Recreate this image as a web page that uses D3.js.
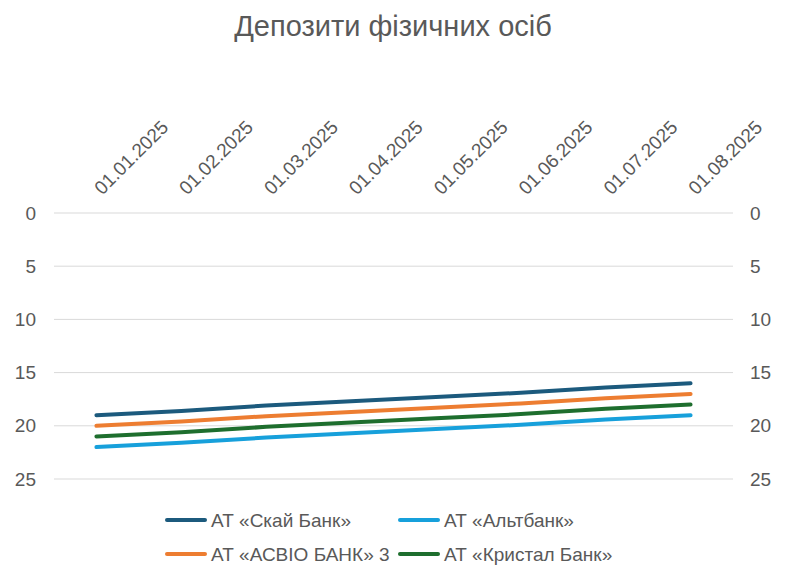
<!DOCTYPE html>
<html><head><meta charset="utf-8">
<script src="https://cdn.jsdelivr.net/npm/d3@7"></script>
<style>body{margin:0;background:#fff}svg{display:block}</style>
</head><body><svg id="c" width="789" height="573"></svg>
<script>
const categories = ["01.01.2025","01.02.2025","01.03.2025","01.04.2025","01.05.2025","01.06.2025","01.07.2025","01.08.2025"];
const seriesNames = ["АТ «Скай Банк»","АТ «Альтбанк»","АТ «АСВІО БАНК» 3","АТ «Кристал Банк»"];
const skai   = [19, 18.6, 18.1, 17.7, 17.3, 16.9, 16.4, 16];
const alt    = [22, 21.6, 21.1, 20.7, 20.3, 19.9, 19.4, 19];
const asvio  = [20, 19.6, 19.1, 18.7, 18.3, 17.9, 17.4, 17];
const kristal= [21, 20.6, 20.1, 19.7, 19.3, 18.9, 18.4, 18];
const yTicks = [0,5,10,15,20,25];
const colors = ["#1c5a7d","#17a0db","#ed7d31","#1e6e2e"];
const seriesVals = [skai, alt, asvio, kristal];

(function(){
const svg = d3.select("#c");
const font = "'Liberation Sans', Arial, sans-serif";
const txt = "#595959";
const pL = 54, pR = 733, pT = 213, pB = 479;

svg.append("text").attr("x", 393).attr("y", 36).attr("text-anchor","middle")
  .attr("font-family", font).attr("font-size", 29).attr("fill", txt).text("Депозити фізичних осіб");

const x = d3.scaleBand().domain(categories).range([pL, pR]);
const y = d3.scaleLinear().domain([0,25]).range([pT, pB]);

svg.append("g").selectAll("line").data(yTicks).join("line")
  .attr("x1", pL).attr("x2", pR).attr("y1", d=>y(d)).attr("y2", d=>y(d))
  .attr("stroke", "#d9d9d9").attr("stroke-width", 1);

const yl = svg.append("g").attr("transform", `translate(${pL},0)`)
  .call(d3.axisLeft(y).tickValues(yTicks).tickSize(0).tickPadding(18));
yl.select(".domain").remove();
yl.selectAll("text").attr("font-family", font).attr("font-size", 19).attr("fill", txt);

const yr = svg.append("g").attr("transform", `translate(${pR},0)`)
  .call(d3.axisRight(y).tickValues(yTicks).tickSize(0).tickPadding(17));
yr.select(".domain").remove();
yr.selectAll("text").attr("font-family", font).attr("font-size", 19).attr("fill", txt);

const xa = svg.append("g").attr("transform", `translate(0,${pT})`)
  .call(d3.axisTop(x).tickSize(0).tickPadding(0));
xa.select(".domain").remove();
xa.selectAll("text")
  .attr("font-family", font).attr("font-size", 19).attr("fill", txt)
  .attr("text-anchor", "start")
  .attr("transform", "translate(1,-22) rotate(-45)")
  .attr("dy", "0.35em").attr("y", 0).attr("x", 0);

const line = d3.line().x((d,i)=>x(categories[i]) + x.bandwidth()/2).y(d=>y(d));
svg.append("g").selectAll("path").data(seriesVals).join("path")
  .attr("d", d=>line(d)).attr("fill","none")
  .attr("stroke", (d,i)=>colors[i]).attr("stroke-width", 4).attr("stroke-linecap","round");

const legPos = [[167,520],[400,520],[167,554],[400,554]];
const lg = svg.append("g").selectAll("g").data(seriesNames).join("g")
  .attr("transform", (d,i)=>`translate(${legPos[i][0]},${legPos[i][1]})`);
lg.append("line").attr("x1",0).attr("x2",38).attr("y1",0).attr("y2",0)
  .attr("stroke",(d,i)=>colors[i]).attr("stroke-width",4).attr("stroke-linecap","round");
lg.append("text").attr("x",44).attr("y",0).attr("dy","0.35em")
  .attr("font-family", font).attr("font-size",19).attr("fill",txt).text(d=>d);
})();
</script></body></html>
